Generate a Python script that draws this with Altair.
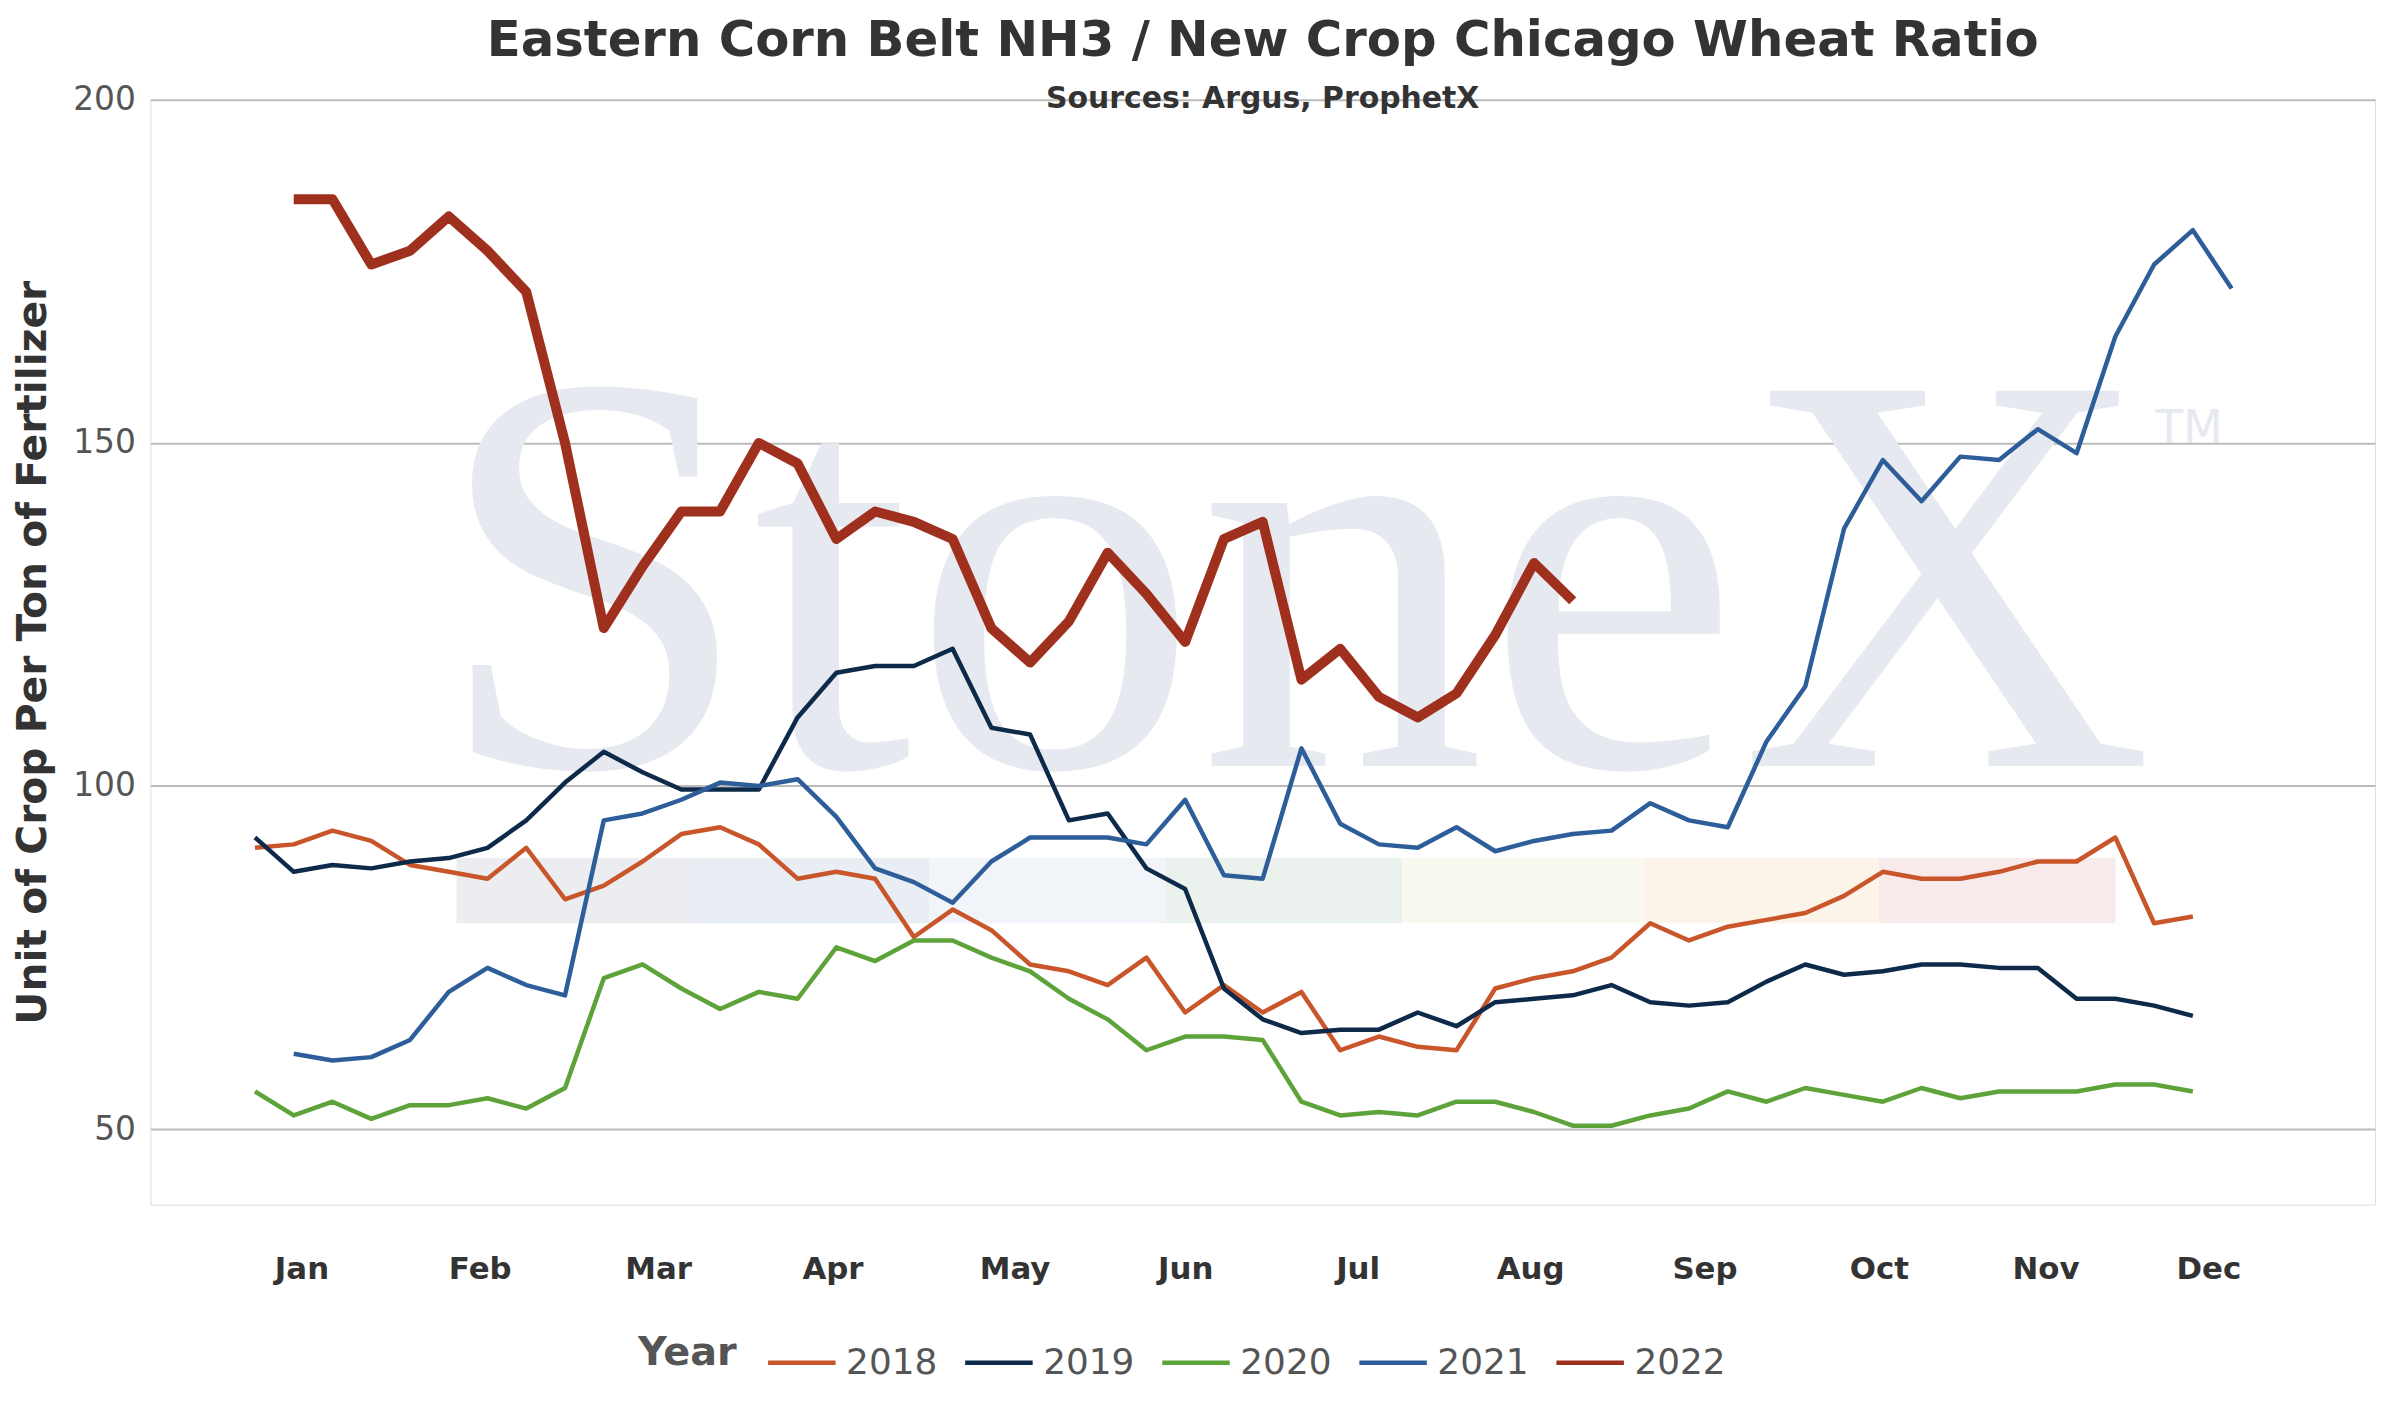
import altair as alt
import pandas as pd

# weekly values, index 0..51
y2018 = [91, 91.5, 93.5, 92, 88.5, 87.5, 86.5, 91, 83.5, 85.5, 89, 93, 94, 91.5, 86.5, 87.5, 86.5, 78, 82, 79,
         74, 73, 71, 75, 67, 71, 67, 70, 61.5, 63.5, 62, 61.5, 70.5, 72, 73, 75, 80, 77.5, 79.5, 80.5,
         81.5, 84, 87.5, 86.5, 86.5, 87.5, 89, 89, 92.5, 80, 81]
y2019 = [92.5, 87.5, 88.5, 88, 89, 89.5, 91, 95, 100.5, 105, 102, 99.5, 99.5, 99.5, 110, 116.5, 117.5, 117.5, 120, 108.5,
         107.5, 95, 96, 88, 85, 70.5, 66, 64, 64.5, 64.5, 67, 65, 68.5, 69, 69.5, 71, 68.5, 68, 68.5, 71.5,
         74, 72.5, 73, 74, 74, 73.5, 73.5, 69, 69, 68, 66.5]
y2020 = [55.5, 52, 54, 51.5, 53.5, 53.5, 54.5, 53, 56, 72, 74, 70.5, 67.5, 70, 69, 76.5, 74.5, 77.5, 77.5, 75,
         73, 69, 66, 61.5, 63.5, 63.5, 63, 54, 52, 52.5, 52, 54, 54, 52.5, 50.5, 50.5, 52, 53, 55.5, 54,
         56, 55, 54, 56, 54.5, 55.5, 55.5, 55.5, 56.5, 56.5, 55.5]
y2021 = [None, 61, 60, 60.5, 63, 70, 73.5, 71, 69.5, 95, 96, 98, 100.5, 100, 101, 95.5, 88, 86, 83, 89,
         92.5, 92.5, 92.5, 91.5, 98, 87, 86.5, 105.5, 94.5, 91.5, 91, 94, 90.5, 92, 93, 93.5, 97.5, 95, 94, 106.5,
         114.5, 137.5, 147.5, 141.5, 148, 147.5, 152, 148.5, 165.5, 176, 181, 172.5]
y2022 = [None, 185.5, 185.5, 176, 178, 183, 178, 172, 150, 123, 132, 140, 140, 150, 147, 136, 140, 138.5, 136, 123,
         118, 124, 134, 128, 121, 136, 138.5, 115.5, 120, 113, 110, 113.5, 122, 132.5, 127]

years = ["2018", "2019", "2020", "2021", "2022"]
colors = ["#C8562A", "#0D2A4A", "#5EA33A", "#2E5E9A", "#A0301E"]
series = [y2018, y2019, y2020, y2021, y2022]

months = ["Jan", "Feb", "Mar", "Apr", "May", "Jun", "Jul", "Aug", "Sep", "Oct", "Nov", "Dec"]
month_pos = [1.2, 5.8, 10.4, 14.9, 19.6, 24.0, 28.45, 32.9, 37.4, 41.9, 46.2, 50.4]

# faint logo band behind the lines
band_start = [5.2, 11.3, 17.4, 23.5, 29.6, 35.8, 41.9]
band_end = [11.3, 17.4, 23.5, 29.6, 35.8, 41.9, 48.0]
band_colors = ["#E6E9EE", "#E4EAF3", "#EEF3F9", "#E6EFE8", "#F8F8EC", "#FCF1E4", "#F6E4E6"]

rows = []
for yr, vals in zip(years, series):
    for i, v in enumerate(vals):
        if v is not None:
            rows.append({"week": i, "value": v, "Year": yr})
df = pd.DataFrame(rows)

xscale = alt.Scale(domain=[-2.7, 54.7], nice=False, zero=False)
yscale = alt.Scale(domain=[39, 200], nice=False, zero=False)

label_expr = " : ".join(
    f"datum.value == {p} ? '{m}'" for p, m in zip(month_pos, months)
) + " : ''"

bands = alt.Chart(pd.DataFrame({"x": band_start, "x2": band_end, "c": band_colors})).mark_rect(
    opacity=0.8
).encode(
    x=alt.X("x:Q", scale=xscale), x2="x2:Q",
    y=alt.datum(80), y2=alt.datum(89.5),
    fill=alt.Fill("c:N", scale=None, legend=None),
)

watermark = alt.Chart(pd.DataFrame({"x": [26.8], "y": [128], "t": ["StoneX"]})).mark_text(
    font="Liberation Serif", fontSize=576, color="#E6E9EF", baseline="middle"
).encode(x=alt.X("x:Q", scale=xscale), y=alt.Y("y:Q", scale=yscale), text="t:N")

tm = alt.Chart(pd.DataFrame({"x": [49.9], "y": [152], "t": ["TM"]})).mark_text(
    font="DejaVu Sans", fontSize=46, color="#E6E9EF"
).encode(x=alt.X("x:Q", scale=xscale), y=alt.Y("y:Q", scale=yscale), text="t:N")

lines = alt.Chart(df).mark_line(strokeJoin="round").encode(
    x=alt.X(
        "week:Q", scale=xscale, title=None,
        axis=alt.Axis(values=month_pos, labelExpr=label_expr, grid=False, domain=False, ticks=False,
                      labelFontSize=31, labelFontWeight="bold", labelColor="#333333", labelPadding=50,
                      labelFont="DejaVu Sans"),
    ),
    y=alt.Y(
        "value:Q", scale=yscale, title="Unit of Crop Per Ton of Fertilizer",
        axis=alt.Axis(values=[50, 100, 150, 200], domain=False, ticks=False, gridColor="#BBBBBB",
                      gridWidth=2, labelFontSize=33, labelColor="#555555", labelPadding=15,
                      titleFontSize=41, titleFontWeight="bold", titleColor="#333333", titlePadding=18,
                      labelFont="DejaVu Sans", titleFont="DejaVu Sans"),
    ),
    color=alt.Color("Year:N", scale=alt.Scale(domain=years, range=colors),
                    legend=alt.Legend(orient="none", legendX=490, legendY=1232,
                                      direction="horizontal", symbolType="stroke",
                                      symbolStrokeWidth=4.5, symbolSize=4600, titleOrient="left",
                                      titleFontSize=40, labelFontSize=36, titleColor="#555555",
                                      labelColor="#555555", titleFont="DejaVu Sans",
                                      titleBaseline="middle",
                                      labelFont="DejaVu Sans", columnPadding=18, labelOffset=8,
                                      titlePadding=28)),
    strokeWidth=alt.condition(alt.datum.Year == "2022", alt.value(10), alt.value(4.5)),
    order="week:Q",
)

chart = alt.layer(watermark, tm, bands, lines).properties(
    width=2235, height=1110,
    title=alt.TitleParams(
        text="Eastern Corn Belt NH3 / New Crop Chicago Wheat Ratio",
        subtitle="Sources: Argus, ProphetX",
        fontSize=50, subtitleFontSize=30, subtitleFontWeight="bold",
        font="DejaVu Sans", subtitleFont="DejaVu Sans", color="#333333", subtitleColor="#333333",
        offset=-30, subtitlePadding=18,
    ),
).configure_view(stroke=None).configure(background="white")

chart.save("out.html", embed_options={"renderer": "svg", "actions": False})
